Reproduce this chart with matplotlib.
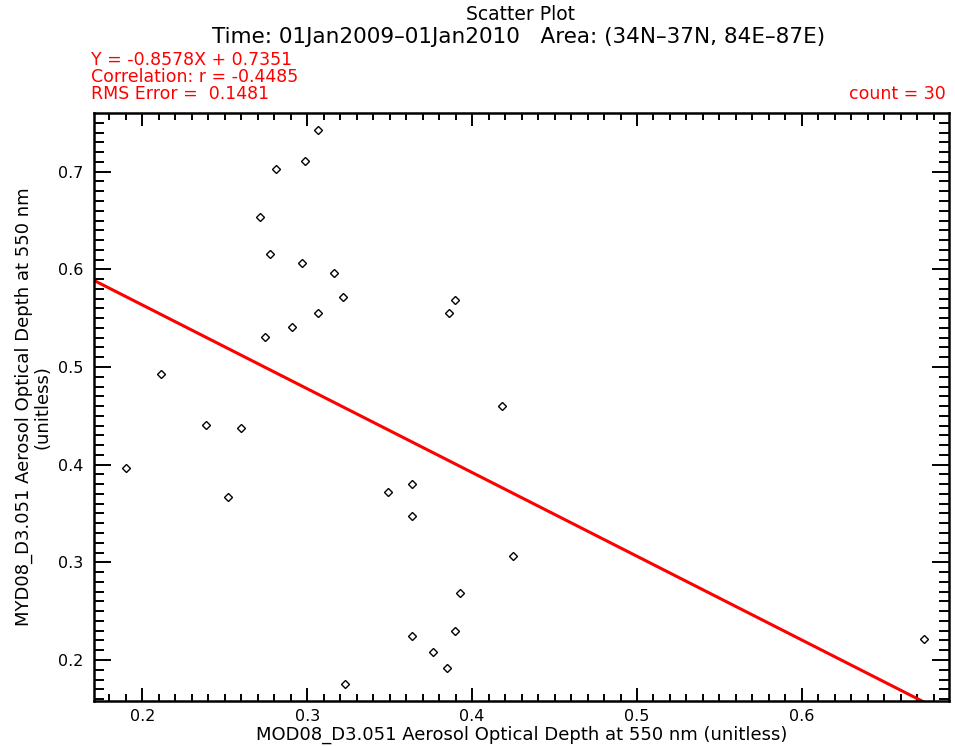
import matplotlib
matplotlib.use("Agg")
import matplotlib.pyplot as plt
from matplotlib.ticker import MultipleLocator, FormatStrFormatter

# ---- data ----
x_vals = [0.3067, 0.2989, 0.2811, 0.2714, 0.2776, 0.2970, 0.3164, 0.3215, 0.3067, 0.2906,
          0.2744, 0.3894, 0.3860, 0.2113, 0.4184, 0.2388, 0.2600, 0.1903, 0.2518, 0.3488,
          0.3634, 0.3634, 0.3925, 0.3894, 0.3634, 0.3765, 0.3846, 0.3231, 0.4248, 0.6740]
y_vals = [0.7432, 0.7107, 0.7023, 0.6534, 0.6153, 0.6067, 0.5961, 0.5712, 0.5549, 0.5411,
          0.5303, 0.5685, 0.5549, 0.4924, 0.4597, 0.4402, 0.4375, 0.3962, 0.3665, 0.3720,
          0.3798, 0.3474, 0.2683, 0.2300, 0.2243, 0.2079, 0.1915, 0.1751, 0.3065, 0.2218]
slope = -0.8578
intercept = 0.7351
corr_r = -0.4485
rms_err = 0.1481
count = 30
x_range = [0.1707, 0.6889]
y_range = [0.158, 0.7598]

title1 = "Scatter Plot"
title2 = "Time: 01Jan2009\u201301Jan2010   Area: (34N\u201337N, 84E\u201387E)"
xlabel = "MOD08_D3.051 Aerosol Optical Depth at 550 nm (unitless)"
ylabel1 = "MYD08_D3.051 Aerosol Optical Depth at 550 nm"
ylabel2 = "(unitless)"

W, H = 955, 746
fig = plt.figure(figsize=(W / 100, H / 100), dpi=100)
plt.rcParams['font.family'] = ['DejaVu Sans']

ax_l, ax_r, ax_t, ax_b = 94, 948.5, 113.3, 701
ax = fig.add_axes([ax_l / W, 1 - ax_b / H, (ax_r - ax_l) / W, (ax_b - ax_t) / H])

ax.plot(x_vals, y_vals, linestyle='none', marker='D', markersize=4.2,
        markerfacecolor='none', markeredgecolor='black', markeredgewidth=1.0)

lx = [x_range[0], x_range[1]]
ly = [slope * v + intercept for v in lx]
ax.plot(lx, ly, color='red', linewidth=2.2, clip_on=True)

ax.set_xlim(x_range)
ax.set_ylim(y_range)

for s in ax.spines.values():
    s.set_linewidth(1.8)

ax.xaxis.set_major_locator(MultipleLocator(0.1))
ax.xaxis.set_minor_locator(MultipleLocator(0.01))
ax.yaxis.set_major_locator(MultipleLocator(0.1))
ax.yaxis.set_minor_locator(MultipleLocator(0.01))
ax.xaxis.set_major_formatter(FormatStrFormatter('%.1f'))
ax.yaxis.set_major_formatter(FormatStrFormatter('%.1f'))

ax.tick_params(axis='x', which='major', direction='in', top=True, bottom=True,
               length=9.5, width=1.4, labelsize=11.5, pad=6)
ax.tick_params(axis='x', which='minor', direction='in', top=True, bottom=True,
               length=5, width=1.4)
ax.tick_params(axis='y', which='major', direction='in', left=True, right=True,
               length=12.5, width=1.4, labelsize=11.5, pad=8)
ax.tick_params(axis='y', which='minor', direction='in', left=True, right=True,
               length=7, width=1.4)

# x label
fig.text((ax_l + ax_r) / 2 / W, 1 - 740 / H, xlabel, ha='center', va='baseline', fontsize=13)
# y labels
yc = 1 - 407 / H
fig.text(24 / W, yc, ylabel1, rotation=90, ha='center', va='center', fontsize=13)
fig.text(42 / W, yc, ylabel2, rotation=90, ha='center', va='center', fontsize=13)

# titles
fig.text(521 / W, 1 - 20 / H, title1, ha='center', va='baseline', fontsize=13.5)
fig.text(519 / W, 1 - 43 / H, title2, ha='center', va='baseline', fontsize=15.5)

# red statistics
fs = 12.5
fig.text(91 / W, 1 - 65 / H, "Y = %.4fX + %.4f" % (slope, intercept), color='red',
         ha='left', va='baseline', fontsize=fs)
fig.text(91 / W, 1 - 82 / H, "Correlation: r = %.4f" % corr_r, color='red',
         ha='left', va='baseline', fontsize=fs)
fig.text(91 / W, 1 - 99 / H, "RMS Error =  %.4f" % rms_err, color='red',
         ha='left', va='baseline', fontsize=fs)
fig.text(946 / W, 1 - 99 / H, "count = %d" % count, color='red',
         ha='right', va='baseline', fontsize=fs)

fig.savefig("out.png", dpi=100)
